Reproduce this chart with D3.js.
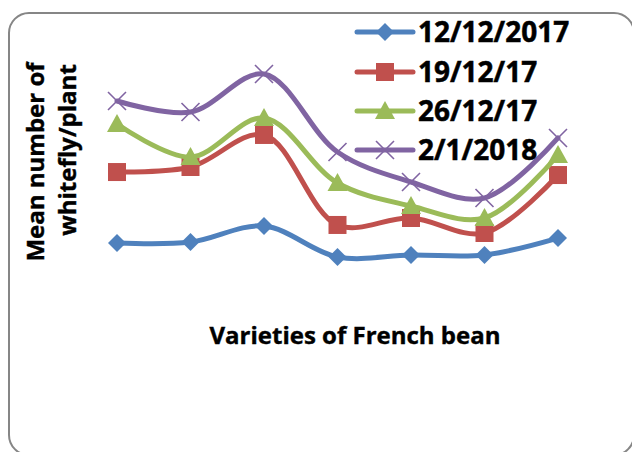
<!DOCTYPE html>
<html><head><meta charset="utf-8">
<script src="https://cdn.jsdelivr.net/npm/d3@7"></script>
<style>body{margin:0;background:#fff}svg{display:block}</style>
</head><body>
<svg id="c" width="632" height="452"></svg>
<script>
const varieties = ["V1","V2","V3","V4","V5","V6","V7"];
const seriesNames = ["12/12/2017","19/12/17","26/12/17","2/1/2018"];
const s1 = [3.92, 4.00, 5.33, 2.75, 2.92, 2.92, 4.33];
const s2 = [9.83, 10.25, 12.92, 5.42, 6.00, 4.75, 9.58];
const s3 = [13.83, 11.08, 14.33, 8.92, 7.00, 6.00, 11.25];
const s4 = [15.75, 14.83, 18.00, 11.50, 9.00, 7.67, 12.67];
const colors = ["#4F81BD","#C0504D","#9BBB59","#8064A2"];
const markers = ["diamond","square","triangle","x"];
const yTitle = ["Mean number of","whitefly/plant"];
const xTitle = "Varieties of French bean";

const series = [s1,s2,s3,s4].map((v,i)=>({name:seriesNames[i],values:v,color:colors[i],marker:markers[i]}));

const svg = d3.select("#c");
const font = "'Open Sans', sans-serif";

svg.append("rect").attr("x",9).attr("y",13).attr("width",625).attr("height",442)
  .attr("rx",20).attr("fill","#fff").attr("stroke","#868686").attr("stroke-width",2);

const x = d3.scalePoint().domain(varieties).range([117,558]);
const y = d3.scaleLinear().domain([0,20]).range([290,50]);

const line = d3.line().x((d,i)=>x(varieties[i])).y(d=>y(d)).curve(d3.curveCatmullRom.alpha(0.5));

function drawMarker(g, type, color){
  if(type==="diamond"){
    g.append("path").attr("d","M0,-9L9,0L0,9L-9,0Z").attr("fill",color);
  } else if(type==="square"){
    g.append("rect").attr("x",-9).attr("y",-9).attr("width",18).attr("height",18).attr("fill",color);
  } else if(type==="triangle"){
    g.append("path").attr("d","M0,-10L10,8L-10,8Z").attr("fill",color);
  } else {
    g.append("path").attr("d","M-9,-9L9,9M-9,9L9,-9").attr("stroke",color).attr("stroke-width",1.6).attr("fill","none");
  }
}

series.forEach(s=>{
  svg.append("path").datum(s.values).attr("d",line).attr("fill","none")
    .attr("stroke",s.color).attr("stroke-width",5).attr("stroke-linecap","round");
  s.values.forEach((v,i)=>{
    const g = svg.append("g").attr("transform",`translate(${x(varieties[i])},${y(v)})`);
    drawMarker(g, s.marker, s.color);
  });
});

// legend
const legY = [32,72,111,150];
series.forEach((s,i)=>{
  const g = svg.append("g").attr("transform",`translate(0,${legY[i]})`);
  g.append("line").attr("x1",357).attr("x2",413).attr("y1",0).attr("y2",0)
    .attr("stroke",s.color).attr("stroke-width",5).attr("stroke-linecap","round");
  const m = g.append("g").attr("transform","translate(385,0)");
  drawMarker(m, s.marker, s.color);
  g.append("text").attr("x",418).attr("y",10).attr("font-family",font).attr("font-weight","bold")
    .attr("font-size",28).attr("fill","#000").attr("stroke","#000").attr("stroke-width",0.5).text(s.name);
});

// axis titles
yTitle.forEach((t,i)=>{
  svg.append("text").attr("transform",`translate(${[44,76][i]},${[162,150][i]}) rotate(-90)`)
    .attr("text-anchor","middle").attr("font-family",font).attr("font-weight","bold")
    .attr("font-size",24).attr("fill","#000").attr("stroke","#000").attr("stroke-width",0.4).text(t);
});
svg.append("text").attr("x",355).attr("y",344).attr("text-anchor","middle")
  .attr("font-family",font).attr("font-weight","bold").attr("font-size",24).attr("fill","#000")
  .attr("stroke","#000").attr("stroke-width",0.4).text(xTitle);
</script>
</body></html>
